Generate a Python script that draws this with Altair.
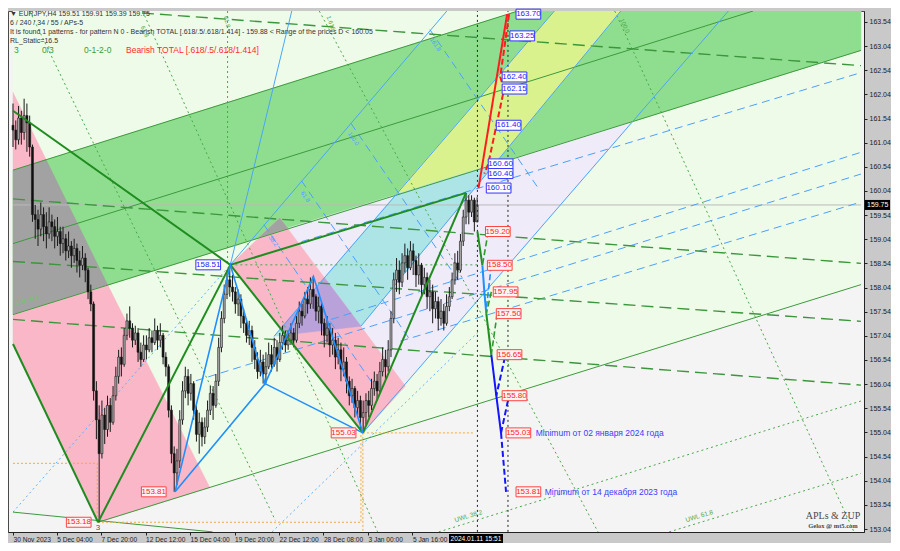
import altair as alt
import pandas as pd

# ---------------- candles (EURJPY H4), bar index 0..167 ----------------
close = ([161.30, 161.10, 161.55, 161.25, 161.60, 161.45, 160.95]
         + [159.55]
         + [159.45, 159.25, 159.55, 159.30, 159.15, 159.40]
         + [159.30, 159.10, 159.20, 158.95, 159.05, 158.80, 158.90]
         + [158.70, 158.85, 158.60, 158.50, 158.65, 158.40]
         + [157.95, 157.70, 155.90, 155.30, 154.60, 155.40, 155.10, 155.60, 155.25, 155.80, 156.20, 156.60, 156.45, 157.05, 157.35, 157.20]
         + [156.95, 157.10, 156.70, 156.55, 156.85, 156.75, 157.00, 156.90, 157.15, 156.95, 157.05]
         + [156.60, 156.40, 155.50, 154.60, 154.20, 154.45, 155.30, 155.90, 156.20, 155.85, 156.05, 155.50, 155.00, 155.25, 154.95, 155.15, 155.50, 155.85, 155.60, 156.10, 156.80, 157.40, 157.90, 158.20, 158.05]
         + [157.95, 157.70, 157.80, 157.45, 157.30, 157.05, 157.15, 156.80, 156.55]
         + [156.30, 156.50, 156.25, 156.40]
         + [156.65, 156.45, 156.80, 156.55, 156.90, 157.05, 156.85, 156.95, 157.10, 156.95]
         + [157.30, 157.55, 157.45, 157.80, 157.70, 158.00, 157.85]
         + [157.55, 157.65, 157.30, 157.05, 157.20, 156.85, 156.95, 156.60, 156.75, 156.35, 156.50, 156.10]
         + [155.80, 155.95, 155.55, 155.70, 155.35, 155.45]
         + [155.70, 155.60, 155.95, 156.10, 155.90, 156.30, 156.55, 156.40, 156.75]
         + [157.40, 158.20]
         + [158.40, 158.15, 158.55, 158.70, 158.45, 158.80, 158.60, 158.30, 158.50]
         + [158.10, 158.25, 157.85, 157.95, 157.60, 157.75, 157.40, 157.55, 157.30, 157.65, 157.85]
         + [158.20, 158.55, 158.40, 159.00, 159.50, 159.85]
         + [159.60, 159.85, 159.40, 159.75])
high = ([161.85, 161.50, 161.80, 161.70, 161.95, 161.85, 161.60]
        + [161.00]
        + [159.75, 159.65, 159.80, 159.70, 159.60, 159.70]
        + [159.55, 159.45, 159.50, 159.30, 159.30, 159.15, 159.20]
        + [159.00, 159.05, 158.95, 158.80, 158.90, 158.75]
        + [158.45, 158.10, 157.75, 156.10, 155.60, 155.70, 155.55, 155.80, 155.75, 156.00, 156.40, 156.75, 156.80, 157.20, 157.50, 157.65]
        + [157.30, 157.25, 157.20, 156.90, 157.05, 157.05, 157.20, 157.15, 157.40, 157.25, 157.30]
        + [157.10, 156.70, 156.45, 155.60, 154.75, 154.70, 155.50, 156.10, 156.40, 156.35, 156.25, 156.10, 155.60, 155.45, 155.35, 155.35, 155.70, 156.00, 156.00, 156.25, 157.00, 157.55, 158.10, 158.40, 158.51]
        + [158.30, 158.05, 158.00, 157.90, 157.60, 157.40, 157.35, 157.25, 156.95]
        + [156.70, 156.75, 156.65, 156.70]
        + [156.90, 156.85, 157.00, 156.95, 157.10, 157.25, 157.15, 157.15, 157.30, 157.20]
        + [157.45, 157.75, 157.70, 157.95, 158.05, 158.25, 158.27]
        + [157.90, 157.85, 157.75, 157.40, 157.45, 157.30, 157.20, 157.10, 157.00, 156.90, 156.80, 156.60]
        + [156.20, 156.15, 156.00, 155.90, 155.80, 155.70]
        + [155.85, 155.90, 156.15, 156.30, 156.25, 156.50, 156.80, 156.75, 156.95]
        + [157.55, 158.35]
        + [158.65, 158.60, 158.75, 158.95, 158.85, 159.00, 158.95, 158.70, 158.75]
        + [158.55, 158.45, 158.35, 158.20, 158.10, 157.95, 157.85, 157.80, 157.70, 157.90, 158.05]
        + [158.35, 158.75, 158.80, 159.15, 159.65, 160.00]
        + [159.95, 159.95, 159.90, 159.91])
low = ([160.95, 160.90, 161.00, 161.00, 161.10, 160.85, 160.75]
       + [159.40]
       + [159.05, 158.90, 159.10, 159.00, 158.85, 159.05]
       + [159.00, 158.85, 158.90, 158.70, 158.75, 158.60, 158.65]
       + [158.45, 158.55, 158.35, 158.25, 158.40, 158.15]
       + [157.80, 157.55, 155.70, 154.90, 153.18, 154.50, 154.80, 154.95, 155.05, 155.20, 155.70, 156.05, 156.20, 156.40, 156.95, 157.00]
       + [156.80, 156.85, 156.50, 156.40, 156.50, 156.55, 156.70, 156.70, 156.85, 156.75, 156.80]
       + [156.45, 156.20, 155.35, 154.40, 153.81, 153.95, 154.30, 155.20, 155.75, 155.60, 155.70, 155.30, 154.85, 154.60, 154.75, 154.80, 155.05, 155.40, 155.30, 155.55, 156.00, 156.70, 157.30, 157.80, 157.85]
       + [157.75, 157.50, 157.45, 157.20, 157.10, 156.90, 156.85, 156.50, 156.35]
       + [156.15, 156.20, 156.05, 156.05]
       + [156.35, 156.30, 156.40, 156.30, 156.50, 156.75, 156.70, 156.75, 156.85, 156.80]
       + [156.90, 157.20, 157.25, 157.40, 157.50, 157.60, 157.60]
       + [157.35, 157.30, 157.05, 156.80, 156.90, 156.60, 156.65, 156.35, 156.45, 156.10, 156.20, 155.85]
       + [155.60, 155.65, 155.35, 155.40, 155.10, 155.03]
       + [155.20, 155.35, 155.50, 155.80, 155.70, 155.85, 156.20, 156.15, 156.30]
       + [156.60, 157.30]
       + [157.95, 157.90, 158.05, 158.35, 158.20, 158.40, 158.30, 158.05, 158.10]
       + [157.85, 157.90, 157.60, 157.55, 157.30, 157.40, 157.15, 157.25, 157.15, 157.25, 157.55]
       + [157.80, 158.10, 158.20, 158.35, 158.90, 159.35]
       + [159.35, 159.50, 159.20, 159.39])
first_open = 161.40

# ---------------- axes ----------------
date_ticks = [0, 15.7, 31.7, 47.7, 63.7, 79.7, 95.7, 111.7, 127.7, 143.7]
date_labels = ["30 Nov 2023", "5 Dec 04:00", "7 Dec 20:00", "12 Dec 12:00", "15 Dec 04:00",
               "19 Dec 20:00", "22 Dec 12:00", "28 Dec 08:00", "3 Jan 00:00", "5 Jan 16:00"]
price_ticks = [153.04, 153.54, 154.04, 154.54, 155.04, 155.54, 156.04, 156.54, 157.04, 157.54, 158.04,
               158.54, 159.04, 159.54, 160.04, 160.54, 161.04, 161.54, 162.04, 162.54, 163.04, 163.54]
last_price = 159.75

# ---------------- filled zones (bar, price) ----------------
zones = [
    ("#effbe9", [(0, 163.766), (305.1, 163.766), (305.1, 158.10), (30.6, 153.18), (0, 156.87)]),
    ("#8fde8f", [(0, 160.47), (181.7, 163.766), (305.1, 163.766), (305.1, 162.95), (0, 157.48)]),
    ("#f9b7c7", [(0, 162.08), (11.9, 160.69), (0, 160.47)]),
    ("#a2a2a2", [(0, 160.47), (11.9, 160.69), (34.1, 158.09), (0, 157.48)]),
    ("#f9b7c7", [(0, 157.48), (34.1, 158.09), (70.8, 153.90), (30.6, 153.18), (0, 156.87)]),
    ("#efebf8", [(98.8, 159.27), (223.3, 161.48), (140.8, 156.03)]),
    ("#daf28e", [(137.8, 159.97), (194.8, 163.766), (218.7, 163.766), (173.3, 160.60)]),
    ("#ade5e6", [(137.8, 159.97), (173.3, 160.60), (125.2, 157.24), (93.9, 157.03)]),
    ("#f9b7c7", [(78.2, 158.51), (96.0, 159.48), (141.2, 156.0), (125.9, 155.03)]),
    ("#a2a2a2", [(88.6, 159.08), (96.0, 159.48), (98.8, 159.27)]),
    ("#b9a2da", [(112.0, 158.25), (96.3, 157.20), (98.1, 157.06), (125.2, 157.24)]),
]

# ---------------- lines (bar, price) ----------------
thin_green = [[(0, 160.47), (181.7, 163.766)], [(0, 158.95), (266.3, 163.766)],
              [(0, 157.48), (305.1, 162.95)], [(30.6, 153.18), (305.1, 158.10)],
              [(0, 153.39), (71.8, 152.98)]]
thick_green = [[(0, 161.70), (78.2, 158.51)], [(30.6, 153.18), (78.2, 158.51)],
               [(0, 156.87), (30.6, 153.18)], [(78.2, 158.51), (125.9, 155.03)],
               [(125.9, 155.03), (163.0, 160.0)], [(78.2, 158.51), (163.0, 160.0)]]
green_dashed = [[(46.4, 163.725), (305.1, 162.634)], [(0, 159.875), (305.1, 158.54)],
                [(0, 158.58), (305.1, 157.34)], [(0, 157.38), (305.1, 156.02)]]
green_dotted = [[(77.2, 163.766), (77.2, 158.51)], [(78.2, 158.51), (167.8, 158.51)],
                [(6.0, 163.766), (94.4, 153.22)], [(46.6, 163.766), (131.2, 152.98)],
                [(110.2, 163.766), (210.5, 152.98)], [(216.5, 163.766), (302.6, 152.98)],
                [(153.2, 152.98), (305.1, 155.69)], [(236.1, 152.98), (305.1, 154.19)]]
blue_thin = [[(125.9, 155.03), (257.4, 163.766)], [(78.2, 158.51), (100.3, 163.766)],
             [(78.2, 158.51), (156.1, 163.766)], [(93.9, 157.03), (194.8, 163.766)],
             [(125.2, 157.24), (218.7, 163.766)]]
blue_zigzag = [[(58.3, 153.81), (78.2, 158.51), (90.7, 156.05), (108.1, 158.27), (125.9, 155.03)],
               [(58.3, 153.81), (90.7, 156.05), (125.9, 155.03)]]
blue_dashed = [[(103.8, 158.99), (305.1, 162.49)], [(114.5, 157.38), (305.1, 160.84)],
               [(65.8, 156.11), (305.1, 160.39)], [(139.4, 156.93), (305.1, 159.81)],
               [(90.3, 159.34), (129.4, 156.05)], [(103.8, 160.25), (142.9, 156.95)],
               [(121.6, 161.44), (160.7, 158.15)], [(150.0, 163.38), (189.2, 160.08)]]
blue_dotted = [[(0, 153.39), (78.2, 158.51)], [(93.2, 152.98), (167.8, 157.14)]]
orange_dotted = [[(30.6, 153.18), (125.2, 153.18), (125.2, 155.03)],
                 [(125.9, 155.03), (125.9, 152.98)], [(125.9, 155.03), (166.0, 155.03)],
                 [(0, 154.40), (30.3, 154.40), (30.3, 153.18)]]
price_line = [[(0, last_price), (305.1, last_price)]]
black_dotted = [[(167.1, 152.98), (167.1, 163.766)], [(178.1, 152.98), (178.1, 163.766)]]
red_solid = [[(167.5, 160.10), (177.8, 163.70)]]
red_dashed = [[(178.5, 163.70), (175.3, 162.40), (176.7, 162.15), (171.0, 160.60), (169.6, 160.40)]]
proj_green = [[(167.1, 159.20), (168.9, 158.50)], [(170.3, 157.50), (172.1, 156.65)]]
proj_dodger = [[(168.9, 158.50), (169.6, 157.95), (170.3, 157.50)]]
proj_blue = [[(172.1, 156.65), (173.9, 155.80), (175.6, 155.03)]]
proj_blue_dash = [[(175.6, 155.03), (177.4, 153.81)], [(177.0, 156.60), (173.9, 155.80)],
                  [(178.1, 155.70), (175.6, 155.03)]]
proj_green_dash = [[(171.0, 159.20), (168.9, 158.50)], [(172.1, 157.95), (170.3, 157.50)],
                   [(174.2, 157.50), (172.1, 156.65)]]
proj_dodger_dash = [[(172.1, 158.50), (170.3, 157.60)]]

# ---------------- boxed price labels ----------------
blue_label_vals = [163.70, 163.25, 162.40, 162.15, 161.40, 160.60, 160.40, 160.10, 158.51]
blue_label_left = [181.0, 178.8, 176.0, 176.0, 173.9, 171.0, 171.0, 170.3, 65.8]
red_label_vals = [159.20, 158.50, 157.95, 157.50, 156.65, 155.80, 155.03, 153.81, 155.03, 153.81, 153.18]
red_label_left = [170.0, 170.7, 172.8, 173.9, 174.2, 176.0, 177.4, 181.0, 114.5, 46.2, 19.2]

# small rotated level captions on fan lines
cap_x = [76.5, 113.5, 46.5, 92.5, 104.0, 121.0, 150.5, 219.0, 1.0]
cap_y = [163.66, 163.66, 163.45, 159.10, 160.02, 161.25, 163.20, 163.60, 157.72]
cap_t = ["61.8", "1.618", "61.8", "38.2", "61.8", "100.0", "161.8", "100.0", "155.39.1"]
cap_c = ["#4aa84a", "#4aa84a", "#4aa84a", "#4aa0ff", "#4aa0ff", "#4aa0ff", "#4aa0ff", "#4aa84a", "#6cc86c"]
cap_a = [75, 70, 65, 55, 55, 55, 55, 65, 345]

# ================= build =================
W, H = 856, 521
XD = [0, 304.4]
YD = [152.978, 163.766]
PXB = W / (XD[1] - XD[0])
PXP = H / (YD[1] - YD[0])

xscale = alt.Scale(domain=XD, nice=False, zero=False)
yscale = alt.Scale(domain=YD, nice=False, zero=False)
label_expr_x = "[" + ",".join("'" + s + "'" for s in date_labels) + "][round((datum.value+0.3)/16)]"
xaxis = alt.Axis(values=date_ticks, labelExpr=label_expr_x, labelAlign="left", labelPadding=1,
                 tickSize=3, title=None, grid=False, labelFlush=False, labelOverlap=False,
                 labelFontSize=6.6)
yaxis = alt.Axis(orient="right", values=price_ticks, format=".2f", tickSize=3, labelPadding=2,
                 title=None, grid=False, labelOverlap=False, labelFlush=False, labelFontSize=7)


def ex(f="x"):
    return alt.X(f + ":Q", scale=xscale, axis=xaxis, title=None)


def ey(f="y"):
    return alt.Y(f + ":Q", scale=yscale, axis=yaxis, title=None)


def poly(color, pts):
    df = pd.DataFrame({"x": [p[0] for p in pts], "y": [p[1] for p in pts], "i": list(range(len(pts)))})
    return alt.Chart(df).mark_line(interpolate="linear-closed", fill=color, stroke=color,
                                   strokeWidth=0.5, clip=True).encode(x=ex(), y=ey(), order="i:Q")


def lines(segs, color, width=1.0, dash=None):
    rows = []
    for s, pts in enumerate(segs):
        for k, p in enumerate(pts):
            rows.append({"s": s, "i": k, "x": p[0], "y": p[1]})
    kw = dict(color=color, strokeWidth=width, clip=True)
    if dash:
        kw["strokeDash"] = dash
    return alt.Chart(pd.DataFrame(rows)).mark_line(**kw).encode(
        x=ex(), y=ey(), detail="s:N", order="i:Q")


layers = [poly(c, p) for c, p in zones]

layers += [
    lines(price_line, "#b9b9b9", 1),
    lines(green_dotted, "#4aa84a", 1, [2, 3]),
    lines(blue_dotted, "#63b0ff", 1, [2, 3]),
    lines(blue_dashed, "#4aa0ff", 1, [8, 5]),
    lines(thin_green, "#3d9a3d", 1),
    lines(green_dashed, "#3c963c", 1.4, [12, 6]),
    lines(blue_thin, "#4aa6f5", 1),
    lines(orange_dotted, "#f6a83a", 1, [2, 2]),
]

caps = pd.DataFrame({"x": cap_x, "y": cap_y, "t": cap_t, "c": cap_c, "a": cap_a})
for k in range(len(cap_t)):
    layers.append(alt.Chart(caps.iloc[[k]]).mark_text(
        fontSize=6, font="Liberation Sans", color=cap_c[k], angle=cap_a[k], align="left").encode(
        x=ex(), y=ey(), text="t:N"))

# candles
opens = [first_open] + close[:-1]
cd = pd.DataFrame({"x": list(range(len(close))), "o": opens, "c": close, "h": high, "l": low})
cd["y"] = cd[["l", "o", "c"]].min(axis=1)
cd["y2"] = cd[["h", "o", "c"]].max(axis=1)
wick = alt.Chart(cd).mark_rule(color="#1a1a1a", strokeWidth=1).encode(x=ex(), y=ey(), y2="y2:Q")
bd = pd.DataFrame({"x": cd["x"], "y": cd["o"], "y2": cd["c"], "bull": cd["c"] >= cd["o"]})
body = alt.Chart(bd).mark_bar(size=2, stroke="#1a1a1a", strokeWidth=0.6).encode(
    x=ex(), y=ey(), y2="y2:Q",
    color=alt.condition("datum.bull", alt.value("#a9a9a9"), alt.value("#111111")))
layers += [wick, body]

layers += [
    lines(thick_green, "#1f8c1f", 2),
    lines(blue_zigzag, "#1e8fff", 1.6),
    lines(black_dotted, "#222222", 1, [2, 3]),
    lines(red_solid, "#ff1c1c", 2),
    lines(red_dashed, "#ff1c1c", 2, [6, 3]),
    lines(proj_green, "#1f8f1f", 2),
    lines(proj_dodger, "#1e90ff", 2),
    lines(proj_blue, "#1414ff", 2),
    lines(proj_blue_dash, "#1414ff", 2, [6, 3]),
    lines(proj_green_dash, "#2e9a2e", 1.6, [6, 3]),
    lines(proj_dodger_dash, "#1e90ff", 1.6, [6, 3]),
]


def boxes(vals, lefts, stroke, fill, tcolor):
    bw = 25 / PXB
    bh = 5 / PXP
    df = pd.DataFrame({"x": lefts, "x2": [l + bw for l in lefts],
                       "y": [v - bh for v in vals], "y2": [v + bh for v in vals],
                       "xc": [l + bw / 2 for l in lefts], "yc": vals,
                       "t": [f"{v:.2f}" for v in vals]})
    r = alt.Chart(df).mark_rect(fill=fill, stroke=stroke, strokeWidth=1).encode(
        x=ex(), x2="x2:Q", y=ey(), y2="y2:Q")
    t = alt.Chart(df).mark_text(color=tcolor, fontSize=8, font="Liberation Sans").encode(
        x=ex("xc"), y=ey("yc"), text="t:N")
    return [r, t]


layers += boxes(blue_label_vals, blue_label_left, "#3333ff", "#ffffff", "#2222ff")
layers += boxes(red_label_vals, red_label_left, "#ff4444", "#fff3f3", "#ff2222")

notes = pd.DataFrame({"x": [188.1, 191.3], "y": [155.03, 153.81],
                      "t": ["Minimum от 02 января 2024 года", "Minimum от  14  декабря 2023 года"]})
layers.append(alt.Chart(notes).mark_text(align="left", color="#3c3cff", fontSize=8.5,
                                         font="Liberation Sans").encode(x=ex(), y=ey(), text="t:N"))

wl = pd.DataFrame({"x": [158.9, 242.0], "y": [153.22, 153.22], "t": ["UWL 38.2", "UWL 61.8"]})
layers.append(alt.Chart(wl).mark_text(align="left", color="#49a849", fontSize=6.5, angle=343,
                                      font="Liberation Sans").encode(x=ex(), y=ey(), text="t:N"))
three = pd.DataFrame({"x": [30.6], "y": [153.07], "t": ["3"]})
layers.append(alt.Chart(three).mark_text(color="#555555", fontSize=8,
                                         font="Liberation Sans").encode(x=ex(), y=ey(), text="t:N"))

dummy = pd.DataFrame({"d": [0]})


def txt(s, px, py, size=7.0, color="#333333", font="Liberation Sans", align="left", weight="normal"):
    return alt.Chart(dummy).mark_text(align=align, baseline="middle", fontSize=size, color=color,
                                      font=font, fontWeight=weight).encode(
        x=alt.value(px), y=alt.value(py), text=alt.value(s))


layers += [
    txt("▼  EURJPY,H4  159.51 159.91 159.39 159.75", 2, 3),
    txt(" 6 / 240 / 34 / 55 / APs-5", 2, 12),
    txt("It is found 1 patterns  -  for pattern N 0 - Bearish TOTAL [.618/.5/.618/1.414] - 159.88 < Range of the prices D < 160.05", 2, 21),
    txt("RL_Static=16.5", 2, 30),
    txt("3", 6, 39, 8.5, "#3a9a3a"),
    txt("0/3", 34, 39, 8.5, "#3a9a3a"),
    txt("0-1-2-0", 76, 39, 8.5, "#3a9a3a"),
    txt("Bearish TOTAL [.618/.5/.618/1.414]", 118, 39, 8.5, "#ff2a2a"),
    txt("APLs & ZUP", 825, 505, 10, "#4a4a4a", "Liberation Serif", "center"),
    txt("Gelox @ mt5.com", 825, 515, 6.5, "#4a4a4a", "Liberation Serif", "center", "bold"),
]

# price tag on the right axis and time tag on the bottom axis
tag = pd.DataFrame({"y": [last_price - 5 / PXP], "y2": [last_price + 5 / PXP], "yc": [last_price], "t": ["159.75"]})
layers.append(alt.Chart(tag).mark_rect(color="#000000").encode(
    x=alt.value(W + 1), x2=alt.value(W + 26), y=ey(), y2="y2:Q"))
layers.append(alt.Chart(tag).mark_text(color="#ffffff", fontSize=7, align="left",
                                       font="Liberation Sans").encode(
    x=alt.value(W + 3), y=ey("yc"), text="t:N"))
layers.append(alt.Chart(dummy).mark_rect(color="#000000").encode(
    x=alt.value(441), x2=alt.value(495), y=alt.value(H + 2), y2=alt.value(H + 11)))
layers.append(txt("2024.01.11 15:51", 468, H + 6.5, 6.6, "#ffffff", align="center"))

chart = alt.layer(*layers).properties(
    width=W, height=H, background="#c9c9c9",
    padding={"left": 0, "top": 0, "right": 0, "bottom": 0},
).configure_view(fill="#f4f4f4", stroke="#4a4a4a", strokeWidth=1).configure_axis(
    labelFont="Liberation Sans", labelColor="#222222",
    tickColor="#222222", domainColor="#222222", grid=False)

chart.save("out.html", embed_options={"renderer": "svg", "actions": False})
